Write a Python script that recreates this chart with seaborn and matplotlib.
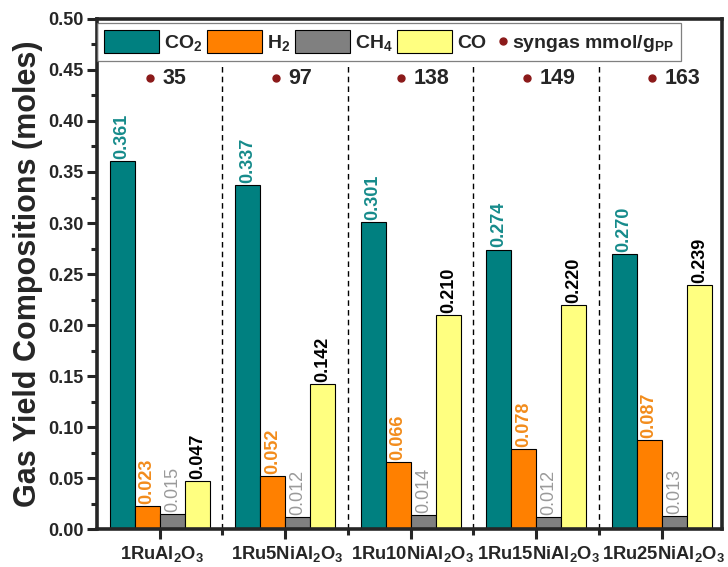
import numpy as np
import pandas as pd
import matplotlib
matplotlib.use("Agg")
import matplotlib.pyplot as plt
from matplotlib.patches import Patch
from matplotlib.lines import Line2D
from matplotlib.legend_handler import HandlerBase
from matplotlib.transforms import ScaledTranslation
import seaborn as sns

catalysts = ["1RuAl2O3", "1Ru5NiAl2O3", "1Ru10NiAl2O3", "1Ru15NiAl2O3", "1Ru25NiAl2O3"]
tick_labels = [r"1RuAl$_2$O$_3$", r"1Ru5NiAl$_2$O$_3$", r"1Ru10NiAl$_2$O$_3$",
               r"1Ru15NiAl$_2$O$_3$", r"1Ru25NiAl$_2$O$_3$"]
gases = ["CO2", "H2", "CH4", "CO"]
legend_labels = [r"CO$_2$", r"H$_2$", r"CH$_4$", "CO"]
co2 = [0.361, 0.337, 0.301, 0.274, 0.270]
h2 = [0.023, 0.052, 0.066, 0.078, 0.087]
ch4 = [0.015, 0.012, 0.014, 0.012, 0.013]
co = [0.047, 0.142, 0.210, 0.220, 0.239]
syngas = [35, 97, 138, 149, 163]

colors = ["#008080", "#FF8000", "#808080", "#FFFF80"]
label_colors = ["#168B8B", "#F28C1C", "#9A9A9A", "#000000"]
label_weights = ["bold", "bold", "normal", "bold"]
dot_color = "#8B1A1A"

sns.set_style("ticks")
plt.rcParams["font.family"] = ["Liberation Sans", "DejaVu Sans"]
plt.rcParams["font.weight"] = "bold"
plt.rcParams["mathtext.fontset"] = "custom"
plt.rcParams["mathtext.rm"] = "Liberation Sans:bold"
plt.rcParams["mathtext.it"] = "Liberation Sans:bold"
plt.rcParams["mathtext.bf"] = "Liberation Sans:bold"
plt.rcParams["mathtext.default"] = "rm"

rows = []
for g, vals in zip(gases, [co2, h2, ch4, co]):
    for c, v in zip(catalysts, vals):
        rows.append({"catalyst": c, "gas": g, "value": v})
df = pd.DataFrame(rows)

fig = plt.figure(figsize=(7.28, 5.67), dpi=100)
ax = fig.add_axes([0.1332, 0.0670, 0.8585, 0.8995])

sns.barplot(data=df, x="catalyst", y="value", hue="gas", order=catalysts,
            hue_order=gases, palette=colors, edgecolor="black", linewidth=0.8,
            width=0.8, dodge=True, ax=ax, legend=False, saturation=1)

for cont, col, w in zip(ax.containers, label_colors, label_weights):
    for bar in cont:
        h = bar.get_height()
        ax.text(bar.get_x() + bar.get_width() / 2, h + 0.002, f"{h:.3f}",
                rotation=90, ha="center", va="bottom", color=col,
                fontsize=13, fontweight=w)

ax.set_xlim(-0.5, 4.48)
ax.set_ylim(0, 0.5)
yt = np.arange(0, 0.501, 0.05)
ax.set_yticks(yt)
ax.set_yticklabels([f"{v:.2f}" for v in yt], fontsize=13, fontweight="bold")
ax.set_yticks(np.arange(0.025, 0.5, 0.05), minor=True)
ax.set_xticks(range(5))
ax.set_xticklabels(tick_labels, fontsize=13.2)
ax.set_xticks([0.5, 1.5, 2.5, 3.5], minor=True)
ax.tick_params(axis="both", which="major", direction="out", width=2.2, length=7.5, pad=2)
ax.tick_params(axis="both", which="minor", direction="out", width=2.2, length=4.5)
ax.tick_params(axis="x", which="major", pad=3)
shift = ScaledTranslation(2 / 100, 0, fig.dpi_scale_trans)
for lab in ax.get_xticklabels():
    lab.set_transform(lab.get_transform() + shift)
for s in ax.spines.values():
    s.set_linewidth(2.6)
    s.set_visible(True)
ax.set_xlabel("")
ax.set_ylabel("Gas Yield Compositions (moles)", fontsize=22, fontweight="bold", labelpad=4)

ax.vlines([0.5, 1.5, 2.5, 3.5], 0, 0.457, colors="black", linestyles=(0, (4, 3)), linewidth=1)

for i, s in enumerate(syngas):
    ax.plot(i - 0.074, 0.442, marker="o", color=dot_color, markersize=5)
    ax.text(i + 0.024, 0.442, str(s), ha="left", va="center", fontsize=15.5, fontweight="bold")


class DotHandler(HandlerBase):
    def create_artists(self, legend, orig_handle, xdescent, ydescent,
                       width, height, fontsize, trans):
        ln = Line2D([9], [height / 2 - ydescent], marker="o", color=dot_color,
                    linestyle="none", markersize=5, transform=trans)
        return [ln]


handles = [Patch(facecolor=c, edgecolor="black", linewidth=0.8) for c in colors]
dot_handle = Line2D([], [], marker="o", color=dot_color, linestyle="none", markersize=5)
handles.append(dot_handle)
labels = legend_labels + [r"syngas mmol/g$_{PP}$"]
leg = ax.legend(handles, labels, ncol=5, loc="upper left", bbox_to_anchor=(0.0, 0.992),
                frameon=True, fancybox=False, edgecolor="#606060", fontsize=14,
                handlelength=2.85, handleheight=1.45, handletextpad=0.25, columnspacing=0.22,
                borderpad=0.35, borderaxespad=0.0, handler_map={dot_handle: DotHandler()})
leg.get_frame().set_linewidth(0.9)
try:
    col = leg._legend_handle_box.get_children()[-1]
    item = col.get_children()[0]
    da = item.get_children()[0]
    da.width = 12
except Exception:
    pass

fig.savefig("out.png", dpi=100)
